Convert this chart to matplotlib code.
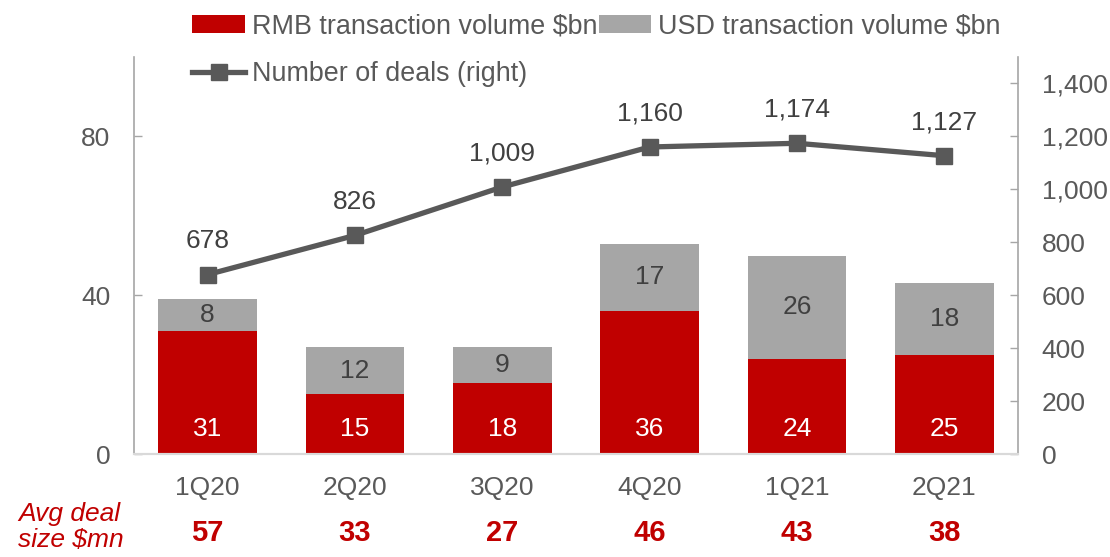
import matplotlib
matplotlib.use("Agg")
import matplotlib.pyplot as plt
import matplotlib.transforms as mtransforms
from matplotlib.lines import Line2D
from matplotlib.patches import Patch

plt.rcParams["font.family"] = ["Liberation Sans", "DejaVu Sans"]

quarters = ["1Q20", "2Q20", "3Q20", "4Q20", "1Q21", "2Q21"]
rmb_volume = [31, 15, 18, 36, 24, 25]
usd_volume = [8, 12, 9, 17, 26, 18]
num_deals = [678, 826, 1009, 1160, 1174, 1127]
avg_deal_size = [57, 33, 27, 46, 43, 38]

red = "#C00000"
grey = "#A6A6A6"
dark = "#595959"
fs = 19

fig = plt.figure(figsize=(11.1, 5.57), dpi=100)
ax = fig.add_axes([134 / 1110, 103 / 557, 884 / 1110, 397 / 557])
ax2 = ax.twinx()

x = list(range(len(quarters)))
ax.bar(x, rmb_volume, width=0.67, color=red, zorder=2)
ax.bar(x, usd_volume, width=0.67, bottom=rmb_volume, color=grey, zorder=2)

for i in x:
    ax.annotate(str(rmb_volume[i]), (i, 0), xytext=(0, 18), textcoords="offset points",
                ha="center", va="center", color="white", fontsize=fs)
    ax.text(i, rmb_volume[i] + usd_volume[i] / 2, str(usd_volume[i]),
            ha="center", va="center", color="#404040", fontsize=fs)

ax2.plot(x, num_deals, color=dark, linewidth=3.8, marker="s", markersize=11,
         zorder=3)
for i in x:
    ax2.annotate(f"{num_deals[i]:,}", (i, num_deals[i]), xytext=(0, 24),
                 textcoords="offset points", ha="center", va="center",
                 color="#404040", fontsize=fs)

ax.set_xlim(-0.5, 5.5)
ax.set_ylim(0, 100)
ax2.set_ylim(0, 1500)
ax.set_yticks([0, 40, 80])
ax2.set_yticks(range(0, 1401, 200))
ax2.set_yticklabels([f"{v:,}" for v in range(0, 1401, 200)])
ax.set_xticks(x)
ax.set_xticklabels(quarters)

ax.tick_params(axis="x", length=0, pad=16, labelsize=fs, labelcolor=dark)
ax.tick_params(axis="y", direction="in", length=6, width=1, color="#A6A6A6",
               pad=17, labelsize=fs, labelcolor=dark)
ax2.tick_params(axis="y", direction="in", length=6, width=1, color="#A6A6A6",
                pad=17, labelsize=fs, labelcolor=dark)

for a in (ax, ax2):
    a.spines["top"].set_visible(False)
    a.spines["left"].set_color("#A6A6A6")
    a.spines["right"].set_color("#A6A6A6")
    a.spines["bottom"].set_color("#D9D9D9")
    a.spines["left"].set_linewidth(1.2)
    a.spines["right"].set_linewidth(1.2)
    a.spines["bottom"].set_linewidth(1.5)
ax.spines["right"].set_visible(False)
ax2.spines["left"].set_visible(False)

# average deal size row under the axis
trans = mtransforms.blended_transform_factory(ax.transData, fig.transFigure)
for i in x:
    ax.text(i, 1 - 533 / 557, str(avg_deal_size[i]), transform=trans,
            ha="center", va="center", color=red, fontsize=21, fontweight="bold")
fig.text(18 / 1110, 1 - 527 / 557, "Avg deal\nsize $mn", ha="left", va="center",
         color=red, fontsize=fs, style="italic", linespacing=1.08)

handles = [
    Patch(facecolor=red),
    Line2D([0], [0], color=dark, linewidth=3.8, marker="s", markersize=11),
    Patch(facecolor=grey),
]
labels = ["RMB transaction volume $bn", "Number of deals (right)",
          "USD transaction volume $bn"]
fig.legend(handles, labels, ncol=2, loc="upper left",
           bbox_to_anchor=(179 / 1110, 1.0), frameon=False, fontsize=19.4,
           labelcolor=dark, handlelength=1.95, handletextpad=0.25,
           columnspacing=0.05, labelspacing=0.8, borderaxespad=0.1)

fig.savefig("out.png", dpi=100)
